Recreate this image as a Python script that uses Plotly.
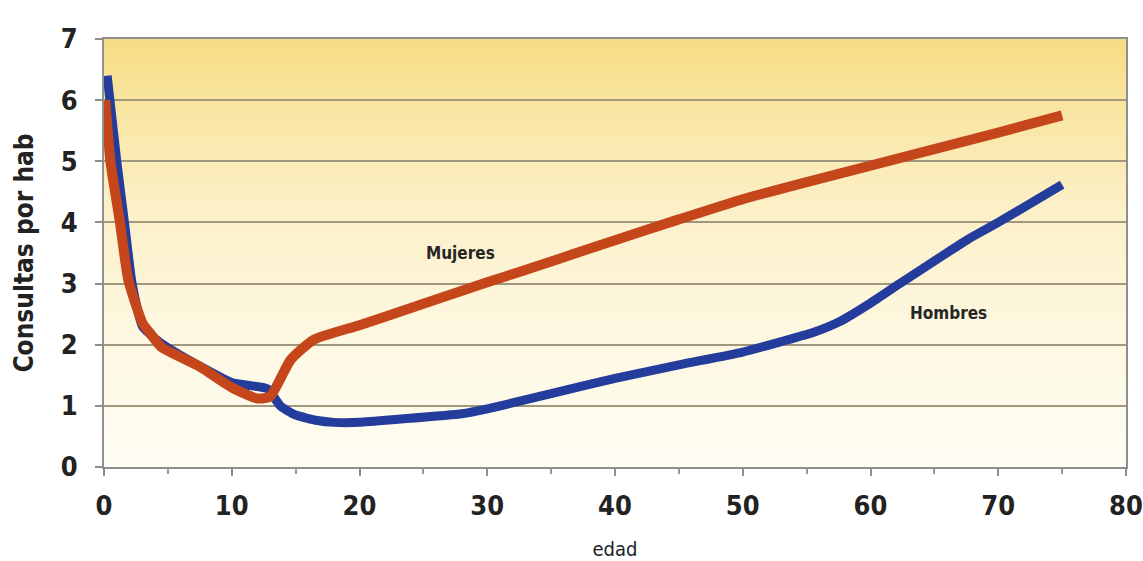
import plotly.graph_objects as go

# Data
edad_hombres = [0.25, 1.0, 1.6, 2.2, 3.0, 4.0, 5.0, 7.5, 10.0, 11.5, 12.8, 13.8, 15.0, 16.7, 18.0, 20.0, 23.0, 28.0, 30.0, 35.0, 40.0, 45.0, 50.0, 53.0, 55.5, 57.6, 60.0, 62.3, 65.0, 67.6, 70.0, 75.0]
hombres = [6.4, 5.0, 4.0, 3.0, 2.3, 2.1, 1.95, 1.65, 1.38, 1.33, 1.28, 1.0, 0.85, 0.76, 0.73, 0.73, 0.78, 0.87, 0.95, 1.2, 1.45, 1.67, 1.88, 2.05, 2.2, 2.38, 2.68, 3.0, 3.37, 3.72, 4.0, 4.62]

edad_mujeres = [0.1, 0.5, 1.25, 1.9, 3.0, 3.6, 4.5, 7.5, 10.0, 12.0, 13.0, 14.6, 16.4, 20.0, 25.0, 30.0, 35.0, 40.0, 45.0, 50.0, 55.0, 60.0, 65.0, 70.0, 75.0]
mujeres = [6.0, 5.0, 4.0, 3.06, 2.36, 2.19, 1.96, 1.64, 1.3, 1.12, 1.15, 1.75, 2.08, 2.32, 2.67, 3.02, 3.36, 3.71, 4.05, 4.38, 4.66, 4.93, 5.2, 5.47, 5.75]

x_ticks = [0, 10, 20, 30, 40, 50, 60, 70, 80]
y_ticks = [0, 1, 2, 3, 4, 5, 6, 7]

FONT = "DejaVu Sans Condensed, Liberation Sans, sans-serif"

fig = go.Figure()

# Background gradient (yellow at top to cream at bottom)
def lerp(c1, c2, t):
    return tuple(round(a + (b - a) * t) for a, b in zip(c1, c2))

stops = [(0.0, (255, 253, 244)), (0.3, (254, 248, 226)), (0.6, (252, 240, 200)), (0.85, (249, 229, 160)), (1.0, (246, 220, 130))]
n = 70
for i in range(n):
    t0 = i / n
    tm = (i + 0.5) / n
    for j in range(len(stops) - 1):
        if stops[j][0] <= tm <= stops[j + 1][0]:
            lt = (tm - stops[j][0]) / (stops[j + 1][0] - stops[j][0])
            c = lerp(stops[j][1], stops[j + 1][1], lt)
            break
    fig.add_shape(type="rect", xref="paper", yref="paper", x0=0, x1=1, y0=t0, y1=(i + 1) / n + 0.002,
                  fillcolor="rgb(%d,%d,%d)" % c, line_width=0, layer="below")

fig.add_trace(go.Scatter(x=edad_hombres, y=hombres, mode="lines", name="Hombres",
                         line=dict(color="#243C9C", width=9, shape="spline", smoothing=0.5)))
fig.add_trace(go.Scatter(x=edad_mujeres, y=mujeres, mode="lines", name="Mujeres",
                         line=dict(color="#C5461B", width=10, shape="spline", smoothing=0.5)))

fig.add_annotation(x=27.9, y=3.5, text="Mujeres", showarrow=False,
                   font=dict(family=FONT, size=17, color="#262626", weight="bold"))
fig.add_annotation(x=66.1, y=2.52, text="Hombres", showarrow=False,
                   font=dict(family=FONT, size=17, color="#262626", weight="bold"))

tickfont = dict(family=FONT, size=27, color="#222222", weight="bold")

fig.update_layout(
    width=1143, height=561,
    margin=dict(l=104, r=17, t=39, b=94),
    paper_bgcolor="white",
    plot_bgcolor="rgba(0,0,0,0)",
    showlegend=False,
    xaxis=dict(range=[0, 80], tickvals=x_ticks, ticktext=[str(v) for v in x_ticks],
               showgrid=False, zeroline=False, automargin=False, ticklabeloverflow="allow",
               showline=True, linecolor="#8E8E8E", linewidth=2, mirror=True,
               ticks="outside", ticklen=7, tickwidth=1.5, tickcolor="#8E8E8E",
               minor=dict(dtick=5, tick0=0, ticks="outside", ticklen=5, tickcolor="#9A9A9A", showgrid=False),
               tickfont=tickfont, ticklabelstandoff=7,
               title=dict(text="edad", font=dict(family=FONT, size=20, color="#222222"), standoff=22)),
    yaxis=dict(range=[0, 7], tickvals=y_ticks, ticktext=[str(v) for v in y_ticks],
               showgrid=True, gridcolor="#A0977C", gridwidth=1.6, zeroline=False, automargin=False,
               showline=True, linecolor="#8E8E8E", linewidth=2, mirror=True,
               ticks="outside", ticklen=7, tickwidth=1.5, tickcolor="#8E8E8E",
               tickfont=tickfont, ticklabelstandoff=12,
               title=dict(text="Consultas por hab", font=dict(family=FONT, size=26, color="#222222", weight="bold"), standoff=20)),
)

fig.write_html("out.html", config={"displayModeBar": False},
               post_script="document.body.style.margin='0';document.body.style.overflow='hidden';")
